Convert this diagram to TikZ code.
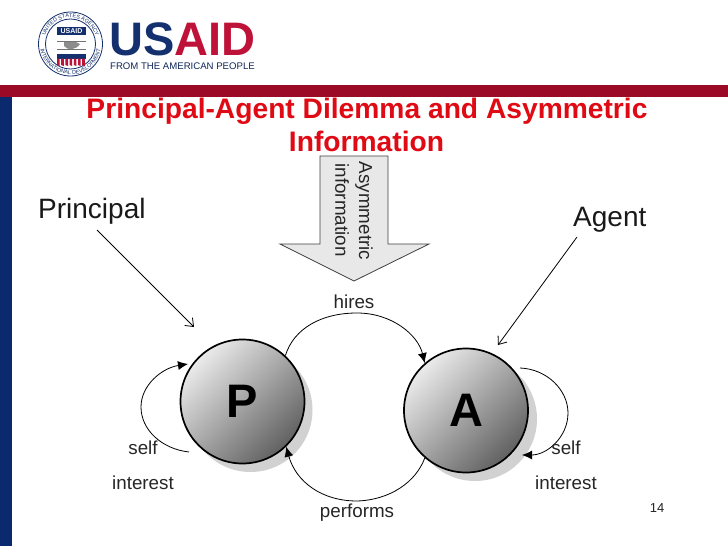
\documentclass[tikz,border=0pt]{standalone}
\usepackage{fontspec}
\setmainfont{Liberation Sans}
\usetikzlibrary{arrows.meta,decorations.text}
\definecolor{barred}{HTML}{9B0A26}
\definecolor{barblue}{HTML}{0B2A6E}
\definecolor{titlered}{HTML}{E00A14}
\definecolor{logoblue}{HTML}{14306E}
\definecolor{logored}{HTML}{BE1238}
\newcommand{\fs}[1]{\fontsize{#1}{#1}\selectfont}
\tikzset{
  x=1pt,y=-1pt,
  label text/.style={inner sep=0pt,font=\fs{18.8},text=black!85},
  side text/.style={inner sep=0pt,font=\fs{28},text=black!90},
  title text/.style={inner sep=0pt,font=\fs{28.2}\bfseries,text=titlered},
  actor/.style={circle,draw=black,line width=1.7pt,minimum size=124pt,inner sep=0pt,
    shading=axis,top color=black!8,bottom color=black!62,shading angle=45,
    font=\fs{47}\bfseries,text=black},
  shadowdisc/.style={circle,fill=black!18,minimum size=124pt,inner sep=0pt},
  flow/.style={line width=0.8pt,black,-{Latex[length=10pt,width=9pt]}},
  pointer/.style={line width=0.8pt,black,-{Straight Barb[length=7pt,width=11pt]}},
}
\begin{document}
\begin{tikzpicture}
\useasboundingbox (0,0) rectangle (728,546);
\fill[white] (0,0) rectangle (728,546);
% bars
\fill[barred] (0,85) rectangle (728,97);
\fill[barblue] (0,97) rectangle (12,546);
% logo seal
\coordinate (seal) at (70.5,44);
\draw[logoblue,line width=0.8pt,fill=white] (seal) circle[radius=32];
\draw[logoblue,line width=0.8pt] (seal) circle[radius=25];
\path[decorate,decoration={text along path,text align=center,
  text={|\fs{5.4}\color{logoblue}|UNITED STATES AGENCY}}]
  (70.5-26.5,44) arc[start angle=180,end angle=360,radius=26.5];
\path[decorate,decoration={text along path,text align=center,
  text={|\fs{5.4}\color{logoblue}|INTERNATIONAL DEVELOPMENT}}]
  (70.5-30.5,44) arc[start angle=180,end angle=0,radius=30.5];
\fill[logoblue] (57,27) rectangle (86,35);
\node[inner sep=0pt,font=\fs{7}\bfseries,text=white] (sealname) at (71.5,31) {USAID};
\draw[black!55,line width=0.7pt] (57,41)--(86,41) (57,49)--(86,49);
\fill[black!45] (64,42) .. controls (70,43) and (75,40) .. (80,44) .. controls (76,50) and (68,51) .. (64,46) -- cycle;
\fill[logoblue] (57,54) rectangle (86,58.5);
\foreach \sx in {57,61.2,...,84}{\fill[logored] (\sx,58.5) -- ++(2.6,0) -- ++(0,7.5) -- ++(-2.6,-1) -- cycle;}
% logo words
\node[anchor=base west,inner sep=0pt,font=\fs{47}\bfseries,text=logoblue] (us) at (109,55) {US};
\node[anchor=base west,inner sep=0pt,font=\fs{47}\bfseries,text=logored] (aid) at (us.base east) {AID};
\node[anchor=base west,inner sep=0pt,font=\fs{9.6},text=logoblue!80!black] (tagline) at (110,69) {FROM THE AMERICAN PEOPLE};
% title
\node[title text,anchor=base] (title1) at (367,118) {Principal-Agent Dilemma and Asymmetric};
\node[title text,anchor=base] (title2) at (366.5,151) {Information};
% block arrow
\draw[fill=black!9,draw=black!75,line width=0.8pt]
  (320,156) -- (388,156) -- (388,244) -- (429,244) -- (354,281) -- (280,244) -- (320,244) -- cycle;
\node[label text,rotate=-90,anchor=center] (asym) at (364,211) {Asymmetric};
\node[label text,rotate=-90,anchor=center] (info) at (342,210) {information};
% side labels
\node[side text,anchor=base west] (principal) at (38,218) {Principal};
\node[side text,anchor=base west] (agent) at (573,226) {Agent};
% actors
\node[shadowdisc] (Ps) at (250.5,410) {};
\node[shadowdisc] (As) at (475,419) {};
\node[actor] (P) at (242.5,401.5) {P};
\node[actor] (A) at (466,410.5) {A};
% pointers
\coordinate (ptail) at (97,230);
\coordinate (phead) at (194,327);
\coordinate (atail) at (577,237);
\coordinate (ahead) at (498,345);
\draw[pointer] (ptail) -- (phead);
\draw[pointer] (atail) -- (ahead);
% hires / performs
\draw[flow] (P.47) .. controls (294,328) and (322,313) .. (357,313)
   .. controls (392,313) and (418,335) .. (A.131);
\draw[flow] (A.229) .. controls (416,482) and (390,500) .. (357,501)
   .. controls (322,501) and (296,482) .. (P.-46);
% self loops
\coordinate (pstart) at (189,452);
\coordinate (pend) at (188,364);
\coordinate (astart) at (520,368);
\coordinate (aend) at (522,455);
\draw[flow] (pstart) .. controls (162,449) and (141,430) .. (141,407)
   .. controls (141,385) and (162,368) .. (pend);
\draw[flow] (astart) .. controls (547,369) and (568,390) .. (568,413)
   .. controls (568,437) and (547,455) .. (aend);
% labels
\node[label text,anchor=base] (hires) at (354,308) {hires};
\node[label text,anchor=base] (performs) at (357,517) {performs};
\node[label text,anchor=base] (self1) at (143,454) {self};
\node[label text,anchor=base] (int1) at (143,489) {interest};
\node[label text,anchor=base] (self2) at (566,454) {self};
\node[label text,anchor=base] (int2) at (566,489) {interest};
\node[inner sep=0pt,font=\fs{13},text=black!85] (pageno) at (657,508) {14};
\end{tikzpicture}
\end{document}
